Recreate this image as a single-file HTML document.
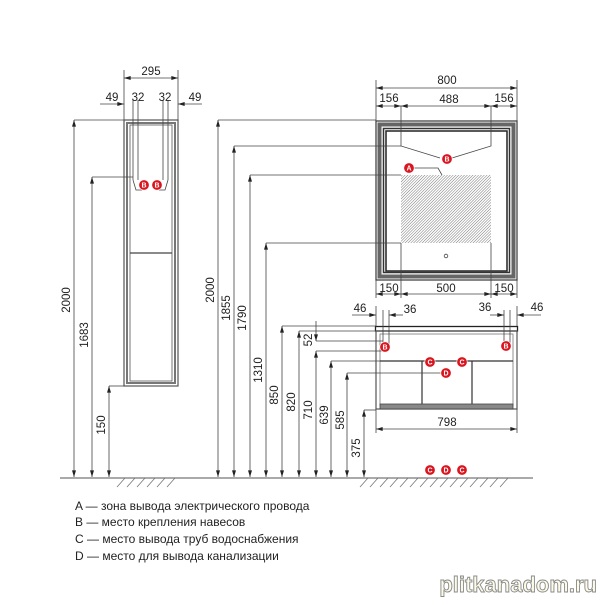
<!DOCTYPE html>
<html><head><meta charset="utf-8"><style>
body{margin:0;background:#fff;width:600px;height:600px;overflow:hidden}
svg text{font-family:"Liberation Sans",Arial,sans-serif;fill:#222}
</style></head><body>
<svg width="600" height="600" viewBox="0 0 600 600" xmlns="http://www.w3.org/2000/svg">
<defs>
<marker id="ae" viewBox="0 0 10 6" refX="10" refY="3" markerWidth="8" markerHeight="4" orient="auto" markerUnits="userSpaceOnUse"><path d="M0,0L10,3L0,6z" fill="#222"/></marker>
<marker id="as" viewBox="0 0 10 6" refX="0" refY="3" markerWidth="8" markerHeight="4" orient="auto" markerUnits="userSpaceOnUse"><path d="M10,0L0,3L10,6z" fill="#222"/></marker>
<pattern id="h" width="2" height="2" patternUnits="userSpaceOnUse" patternTransform="rotate(45)"><rect width="2" height="2" fill="#fff"/><line x1="0" y1="0" x2="0" y2="2" stroke="#777" stroke-width="1"/></pattern>
</defs>
<g stroke="#444" stroke-width="0.8" fill="none">
<line x1="60" y1="478" x2="533" y2="478" stroke="#777" stroke-width="1.2"/>
<path d="M117,487l8,-9M127,487l8,-9M137,487l8,-9M147,487l8,-9M157,487l8,-9M167,487l8,-9" stroke="#777"/>
<path d="M360,487l8,-9M370,487l8,-9M380,487l8,-9M390,487l8,-9M400,487l8,-9M410,487l8,-9M420,487l8,-9M430,487l8,-9M440,487l8,-9M450,487l8,-9M460,487l8,-9M470,487l8,-9M480,487l8,-9M490,487l8,-9M500,487l8,-9" stroke="#777"/>

<rect x="124" y="120" width="54" height="266" stroke="#555" stroke-width="1.2"/>
<rect x="127" y="123" width="48" height="260" stroke="#777" stroke-width="2" />
<rect x="130" y="125" width="42" height="256" stroke="#555"/>
<line x1="130" y1="253" x2="172" y2="253" stroke="#444" stroke-width="1.2"/>
<line x1="124" y1="70" x2="124" y2="120"/><line x1="178" y1="70" x2="178" y2="120"/>
<line x1="124" y1="78" x2="178" y2="78" marker-start="url(#as)" marker-end="url(#ae)"/>
<line x1="100" y1="104" x2="124" y2="104" marker-end="url(#ae)"/>
<line x1="202" y1="104" x2="178" y2="104" marker-end="url(#ae)"/>
<line x1="133" y1="100" x2="133" y2="180"/><line x1="138" y1="100" x2="138" y2="180"/>
<line x1="163" y1="100" x2="163" y2="180"/><line x1="168" y1="100" x2="168" y2="180"/>
<path d="M133,180L136,190H142M168,180L165,190H159"/>
<line x1="74" y1="120" x2="124" y2="120"/>
<line x1="74" y1="120" x2="74" y2="477" marker-start="url(#as)" marker-end="url(#ae)"/>
<line x1="92" y1="177" x2="133" y2="177"/>
<line x1="92" y1="177" x2="92" y2="477" marker-start="url(#as)" marker-end="url(#ae)"/>
<line x1="109" y1="386" x2="124" y2="386"/>
<line x1="109" y1="386" x2="109" y2="477" marker-start="url(#as)" marker-end="url(#ae)"/>

<rect x="376" y="121" width="141" height="159" stroke="#444" stroke-width="1.3"/>
<rect x="379.5" y="124.5" width="134" height="152" stroke="#666" stroke-width="4"/>
<rect x="383.5" y="128.5" width="126" height="144" stroke="#333" stroke-width="1.5"/>
<rect x="386" y="131" width="121" height="140" stroke="#222" stroke-width="1.5"/>
<rect x="401" y="175" width="90" height="68" fill="url(#h)" stroke="none"/>
<circle cx="446" cy="256" r="1.8" stroke="#444"/>
<line x1="376" y1="80" x2="376" y2="121"/><line x1="517" y1="80" x2="517" y2="121"/>
<line x1="376" y1="88" x2="517" y2="88" marker-start="url(#as)" marker-end="url(#ae)"/>
<line x1="376" y1="106" x2="401" y2="106" marker-start="url(#as)" marker-end="url(#ae)"/>
<line x1="401" y1="106" x2="491" y2="106" marker-start="url(#as)" marker-end="url(#ae)"/>
<line x1="491" y1="106" x2="517" y2="106" marker-start="url(#as)" marker-end="url(#ae)"/>
<path d="M401,106V146L440,158M491,106V146L452,158"/>
<path d="M413,168H438L442,175"/>
<line x1="376" y1="280" x2="376" y2="298"/><line x1="517" y1="280" x2="517" y2="298"/>
<line x1="401" y1="243" x2="401" y2="298"/><line x1="491" y1="243" x2="491" y2="298"/>
<line x1="376" y1="294" x2="401" y2="294" marker-start="url(#as)" marker-end="url(#ae)"/>
<line x1="401" y1="294" x2="491" y2="294" marker-start="url(#as)" marker-end="url(#ae)"/>
<line x1="491" y1="294" x2="517" y2="294" marker-start="url(#as)" marker-end="url(#ae)"/>
<line x1="218" y1="120" x2="376" y2="120"/>
<line x1="218" y1="120" x2="218" y2="477" marker-start="url(#as)" marker-end="url(#ae)"/>
<line x1="234" y1="146" x2="401" y2="146"/>
<line x1="234" y1="146" x2="234" y2="477" marker-start="url(#as)" marker-end="url(#ae)"/>
<line x1="250" y1="175" x2="401" y2="175"/>
<line x1="250" y1="175" x2="250" y2="477" marker-start="url(#as)" marker-end="url(#ae)"/>
<line x1="266" y1="243" x2="401" y2="243"/>
<line x1="266" y1="243" x2="266" y2="477" marker-start="url(#as)" marker-end="url(#ae)"/>

<rect x="375.5" y="326.5" width="142" height="4.5" stroke="#222" stroke-width="1.3"/>
<rect x="376" y="331" width="141" height="78" stroke="#555" stroke-width="1.2"/>
<rect x="380" y="334" width="133" height="72" stroke="#777"/>
<line x1="380" y1="361" x2="513" y2="361" stroke="#333" stroke-width="1.2"/>
<line x1="422" y1="361" x2="422" y2="405" stroke="#333" stroke-width="1.2"/>
<line x1="472" y1="361" x2="472" y2="405" stroke="#333" stroke-width="1.2"/>
<rect x="380" y="404" width="133" height="5" fill="#888" stroke="#444"/>
<line x1="376" y1="306" x2="376" y2="326"/><line x1="517" y1="306" x2="517" y2="326"/>
<line x1="383" y1="310" x2="383" y2="345"/><line x1="389" y1="310" x2="389" y2="345"/>
<line x1="504" y1="310" x2="504" y2="345"/><line x1="510" y1="310" x2="510" y2="345"/>
<line x1="352" y1="315" x2="376" y2="315" marker-end="url(#ae)"/>
<line x1="403" y1="315" x2="389" y2="315" marker-end="url(#ae)"/>
<line x1="490" y1="315" x2="504" y2="315" marker-end="url(#ae)"/>
<line x1="541" y1="315" x2="517" y2="315" marker-end="url(#ae)"/>
<line x1="376" y1="409" x2="376" y2="433"/><line x1="517" y1="409" x2="517" y2="433"/>
<line x1="376" y1="429" x2="517" y2="429" marker-start="url(#as)" marker-end="url(#ae)"/>
<line x1="282" y1="326" x2="376" y2="326"/>
<line x1="282" y1="326" x2="282" y2="477" marker-start="url(#as)" marker-end="url(#ae)"/>
<line x1="299" y1="331" x2="376" y2="331"/>
<line x1="299" y1="331" x2="299" y2="477" marker-start="url(#as)" marker-end="url(#ae)"/>
<line x1="316" y1="341" x2="383" y2="341"/>
<line x1="316" y1="351" x2="383" y2="351"/>
<line x1="316" y1="321" x2="316" y2="341" marker-end="url(#ae)"/>
<line x1="316" y1="351" x2="316" y2="477" marker-start="url(#as)" marker-end="url(#ae)"/>
<line x1="331" y1="361" x2="380" y2="361"/>
<line x1="331" y1="361" x2="331" y2="477" marker-start="url(#as)" marker-end="url(#ae)"/>
<line x1="347" y1="373" x2="442" y2="373"/>
<line x1="347" y1="373" x2="347" y2="477" marker-start="url(#as)" marker-end="url(#ae)"/>
<line x1="364" y1="410" x2="376" y2="410"/>
<line x1="364" y1="410" x2="364" y2="477" marker-start="url(#as)" marker-end="url(#ae)"/>
</g>

<g fill="#d9151f" stroke="#fff" stroke-width="0.6">
<circle cx="144" cy="185" r="5.2"/><circle cx="157" cy="185" r="5.2"/>
<circle cx="447" cy="159" r="5.2"/><circle cx="409" cy="168" r="5.2"/>
<circle cx="385" cy="347" r="5.2"/><circle cx="506" cy="346" r="5.2"/>
<circle cx="430" cy="362" r="5.2"/><circle cx="462" cy="362" r="5.2"/><circle cx="446" cy="373" r="5.2"/>
<circle cx="430" cy="470" r="5.2"/><circle cx="446" cy="470" r="5.2"/><circle cx="462" cy="470" r="5.2"/>
</g>
<g font-size="7" font-weight="bold" text-anchor="middle">
<text x="144" y="187.5" style="fill:#fff">B</text><text x="157" y="187.5" style="fill:#fff">B</text>
<text x="447" y="161.5" style="fill:#fff">B</text><text x="409" y="170.5" style="fill:#fff">A</text>
<text x="385" y="349.5" style="fill:#fff">B</text><text x="506" y="348.5" style="fill:#fff">B</text>
<text x="430" y="364.5" style="fill:#fff">C</text><text x="462" y="364.5" style="fill:#fff">C</text><text x="446" y="375.5" style="fill:#fff">D</text>
<text x="430" y="472.5" style="fill:#fff">C</text><text x="446" y="472.5" style="fill:#fff">D</text><text x="462" y="472.5" style="fill:#fff">C</text>
</g>

<g font-size="11.5" text-anchor="middle">
<text x="151" y="75">295</text>
<text x="112" y="101">49</text><text x="138" y="101">32</text><text x="165" y="101">32</text><text x="195" y="101">49</text>
<text x="447" y="84">800</text>
<text x="389" y="102">156</text><text x="449" y="103">488</text><text x="504" y="102">156</text>
<text x="389" y="292">150</text><text x="446" y="292">500</text><text x="504" y="292">150</text>
<text x="360" y="312">46</text><text x="410" y="313">36</text><text x="485" y="311">36</text><text x="537" y="311">46</text>
<text x="447" y="426">798</text>
<text transform="translate(70,300) rotate(-90)">2000</text>
<text transform="translate(88,335) rotate(-90)">1683</text>
<text transform="translate(105,425) rotate(-90)">150</text>
<text transform="translate(214,290) rotate(-90)">2000</text>
<text transform="translate(230,308) rotate(-90)">1855</text>
<text transform="translate(246,318) rotate(-90)">1790</text>
<text transform="translate(262,370) rotate(-90)">1310</text>
<text transform="translate(278,395) rotate(-90)">850</text>
<text transform="translate(295,402) rotate(-90)">820</text>
<text transform="translate(312,340) rotate(-90)">52</text>
<text transform="translate(312,410) rotate(-90)">710</text>
<text transform="translate(328,415) rotate(-90)">639</text>
<text transform="translate(344,420) rotate(-90)">585</text>
<text transform="translate(360,448) rotate(-90)">375</text>
</g>
<g font-size="12">
<text x="75" y="510">A — зона вывода электрического провода</text>
<text x="75" y="526">B — место крепления навесов</text>
<text x="75" y="543">C — место вывода труб водоснабжения</text>
<text x="75" y="560">D — место для вывода канализации</text>
</g>
<text x="597" y="592" text-anchor="end" font-size="22" font-weight="bold" style="fill:#fdfbe8;stroke:#888;stroke-width:0.9">plitkanadom.ru</text>
</svg>
</body></html>
